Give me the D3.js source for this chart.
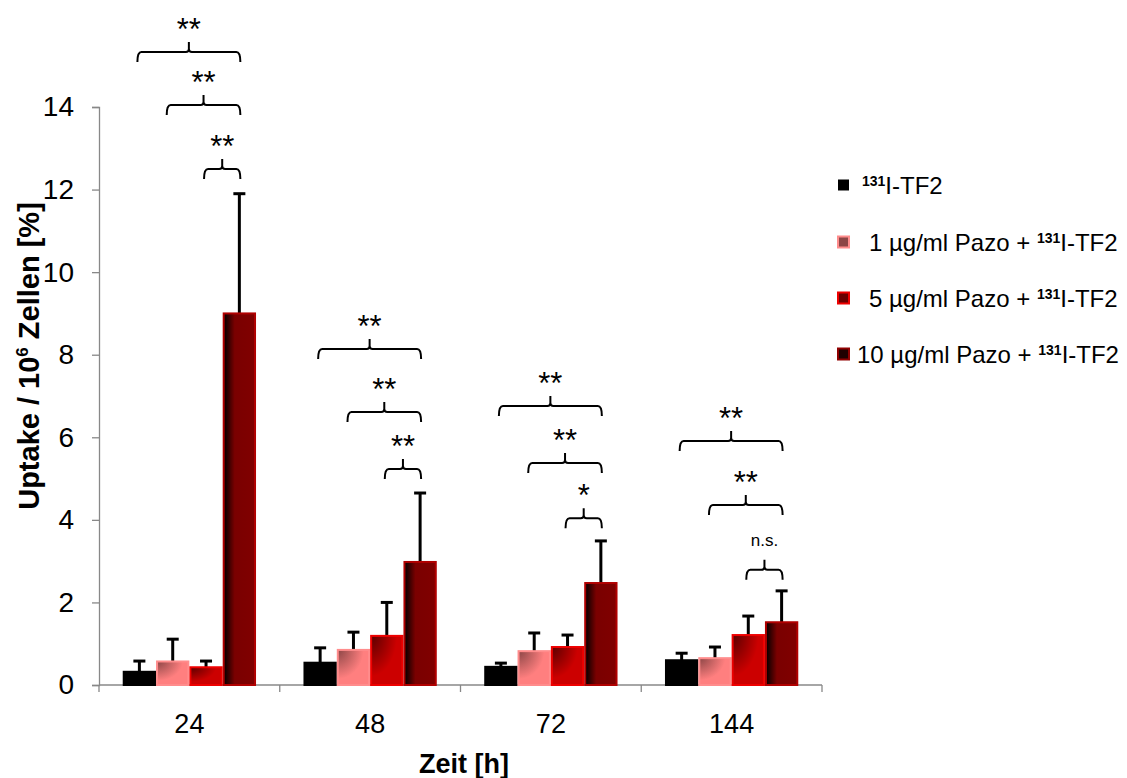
<!DOCTYPE html>
<html>
<head>
<meta charset="utf-8">
<script src="https://cdn.jsdelivr.net/npm/d3@7"></script>
<style>
  body { margin: 0; background: #fff; }
  text { font-family: "Liberation Sans", Arial, sans-serif; }
</style>
</head>
<body>
<svg id="chart" width="1127" height="778"></svg>
<script>
// time points (h)
const categories = ["24", "48", "72", "144"];
const seriesNames = ["131I-TF2", "1 µg/ml Pazo + 131I-TF2", "5 µg/ml Pazo + 131I-TF2", "10 µg/ml Pazo + 131I-TF2"];
// uptake per series, one value per time point
const tf2Only = [0.32, 0.54, 0.44, 0.60];
const pazo1 = [0.57, 0.85, 0.82, 0.65];
const pazo5 = [0.43, 1.19, 0.92, 1.21];
const pazo10 = [9.0, 2.98, 2.47, 1.52];
// upper error bars
const errTf2Only = [0.26, 0.36, 0.09, 0.17];
const errPazo1 = [0.54, 0.43, 0.44, 0.27];
const errPazo5 = [0.15, 0.81, 0.29, 0.46];
const errPazo10 = [2.9, 1.67, 1.02, 0.76];
const yTicks = [0, 2, 4, 6, 8, 10, 12, 14];
// significance brackets: each group compares series 0,1,2 with series 3
const sigPairs = [[0, 3], [1, 3], [2, 3]];
const sigLevels = [[15.33, 14.05, 12.5], [8.14, 6.61, 5.23], [6.76, 5.38, 4.04], [5.91, 4.36, 2.79]];
const sigLabels = [["**", "**", "**"], ["**", "**", "**"], ["**", "**", "*"], ["**", "**", "n.s."]];

const values = [tf2Only, pazo1, pazo5, pazo10];
const errors = [errTf2Only, errPazo1, errPazo5, errPazo10];

const svg = d3.select("#chart");
const plotL = 99, plotR = 822, plotT = 107, plotB = 685;

const x = d3.scaleBand().domain(categories).range([plotL, plotR]);
const groupW = 133.3;
const xs = d3.scaleBand().domain(d3.range(4))
  .range([(x.bandwidth() - groupW) / 2, (x.bandwidth() + groupW) / 2]);
const y = d3.scaleLinear().domain([0, 14]).range([plotB, plotT]);

// gradients
const defs = svg.append("defs");
function cornerGrad(id, c0, c1) {
  const g = defs.append("radialGradient").attr("id", id)
    .attr("cx", 0).attr("cy", 0).attr("r", 1.1).attr("fx", 0).attr("fy", 0);
  g.append("stop").attr("offset", "0%").attr("stop-color", c0);
  g.append("stop").attr("offset", "75%").attr("stop-color", c1);
  g.append("stop").attr("offset", "100%").attr("stop-color", c1);
}
cornerGrad("gPink", "#8c4646", "#ff7f7f");
cornerGrad("gRed", "#5a0000", "#cc0000");
const gd = defs.append("linearGradient").attr("id", "gDark")
  .attr("x1", 0).attr("y1", 0).attr("x2", 1).attr("y2", 0);
gd.append("stop").attr("offset", "0%").attr("stop-color", "#000");
gd.append("stop").attr("offset", "35%").attr("stop-color", "#7a0000");
gd.append("stop").attr("offset", "100%").attr("stop-color", "#800000");

const fills = ["#000", "url(#gPink)", "url(#gRed)", "url(#gDark)"];
const strokes = ["#000", "#ff8c8c", "#ee0000", "#b00000"];

// axes
const yAxis = svg.append("g").attr("transform", `translate(${plotL},0)`)
  .call(d3.axisLeft(y).tickValues(yTicks).tickSize(7).tickPadding(18));
yAxis.selectAll("path,line").attr("stroke", "#888").attr("stroke-width", 1.3);
yAxis.selectAll("text").attr("font-size", 28).attr("fill", "#000")
  .style("font-family", "'Liberation Sans', Arial, sans-serif");

const xAxis = svg.append("g").attr("transform", `translate(0,${plotB})`)
  .call(d3.axisBottom(x).tickSize(0).tickPadding(29));
xAxis.select(".domain").remove();
xAxis.selectAll("text").attr("font-size", 27).attr("fill", "#000")
  .style("font-family", "'Liberation Sans', Arial, sans-serif");
svg.append("line").attr("x1", plotL).attr("x2", plotR).attr("y1", plotB).attr("y2", plotB)
  .attr("stroke", "#888").attr("stroke-width", 1.3);
svg.selectAll(".xb").data(d3.range(categories.length + 1)).join("line")
  .attr("x1", i => plotL + i * x.step()).attr("x2", i => plotL + i * x.step())
  .attr("y1", plotB).attr("y2", plotB + 7)
  .attr("stroke", "#888").attr("stroke-width", 1.3);

// bars
const bars = [];
values.forEach((vals, s) => vals.forEach((v, c) => bars.push({ s, c, v, e: errors[s][c] })));
const bx = d => x(categories[d.c]) + xs(d.s);

svg.append("g").selectAll("line").data(bars).join("line")
  .attr("x1", d => bx(d) + xs.bandwidth() / 2).attr("x2", d => bx(d) + xs.bandwidth() / 2)
  .attr("y1", d => y(d.v)).attr("y2", d => y(d.v + d.e))
  .attr("stroke", "#000").attr("stroke-width", 3);
svg.append("g").selectAll("line").data(bars).join("line")
  .attr("x1", d => bx(d) + xs.bandwidth() / 2 - 6).attr("x2", d => bx(d) + xs.bandwidth() / 2 + 6)
  .attr("y1", d => y(d.v + d.e)).attr("y2", d => y(d.v + d.e))
  .attr("stroke", "#000").attr("stroke-width", 3);

svg.append("g").selectAll("rect").data(bars).join("rect")
  .attr("x", d => bx(d) + 1).attr("width", xs.bandwidth() - 2)
  .attr("y", d => y(d.v)).attr("height", d => y(0) - y(d.v))
  .attr("fill", d => fills[d.s]).attr("stroke", d => strokes[d.s]).attr("stroke-width", 2);

// significance brackets
const cx = (c, s) => x(categories[c]) + xs(s) + xs.bandwidth() / 2;
const sig = svg.append("g");
categories.forEach((cat, c) => {
  sigPairs.forEach(([a, b], k) => {
    const x1 = cx(c, a) - (k === 1 ? 6 : 2), x2 = cx(c, b) + 1, xm = (x1 + x2) / 2, yy = y(sigLevels[c][k]);
    const p = d3.path();
    p.moveTo(x1, yy + 10);
    p.quadraticCurveTo(x1, yy, x1 + 4, yy);
    p.lineTo(xm - 3, yy);
    p.quadraticCurveTo(xm, yy, xm, yy - 3);
    p.lineTo(xm, yy - 10);
    p.moveTo(xm, yy - 3);
    p.quadraticCurveTo(xm, yy, xm + 3, yy);
    p.lineTo(x2 - 4, yy);
    p.quadraticCurveTo(x2, yy, x2, yy + 10);
    sig.append("path").attr("d", p.toString()).attr("fill", "none")
      .attr("stroke", "#000").attr("stroke-width", 2);
    const lab = sigLabels[c][k];
    sig.append("text").attr("x", xm).attr("y", lab === "n.s." ? yy - 24 : yy - 12)
      .attr("text-anchor", "middle").attr("font-size", lab === "n.s." ? 17 : 31)
      .text(lab);
  });
});

// legend
const legend = svg.append("g");
const legY = [185, 242, 298, 354];
const legFill = ["#000", "#8c4646", "#6a0000", "#200000"];
const legStroke = ["#000", "#ff8c8c", "#ee0000", "#900000"];
seriesNames.forEach((name, i) => {
  legend.append("rect").attr("x", 838).attr("y", legY[i] - 5.5).attr("width", 11).attr("height", 11)
    .attr("fill", legFill[i]).attr("stroke", legStroke[i]).attr("stroke-width", i ? 2 : 0);
  const parts = name.split("131");
  const t = legend.append("text").attr("x", i === 0 ? 862 : (i === 3 ? 857 : 869)).attr("y", legY[i] + 9)
    .attr("font-size", 24).style("white-space", "pre");
  t.append("tspan").text(parts[0]);
  t.append("tspan").attr("font-size", 14).attr("font-weight", "bold").attr("dy", -8).text("131");
  t.append("tspan").attr("dy", 8).text(parts[1]);
});

// axis titles
svg.append("text").attr("x", 464).attr("y", 773).attr("text-anchor", "middle")
  .attr("font-size", 27).attr("font-weight", "bold").text("Zeit [h]");
const yt = svg.append("text").attr("transform", "translate(39,356) rotate(-90)")
  .attr("text-anchor", "middle").attr("font-size", 29).attr("font-weight", "bold");
yt.append("tspan").text("Uptake / 10");
yt.append("tspan").attr("font-size", 17).attr("dy", -11).text("6");
yt.append("tspan").attr("dy", 11).text(" Zellen [%]");
</script>
</body>
</html>
